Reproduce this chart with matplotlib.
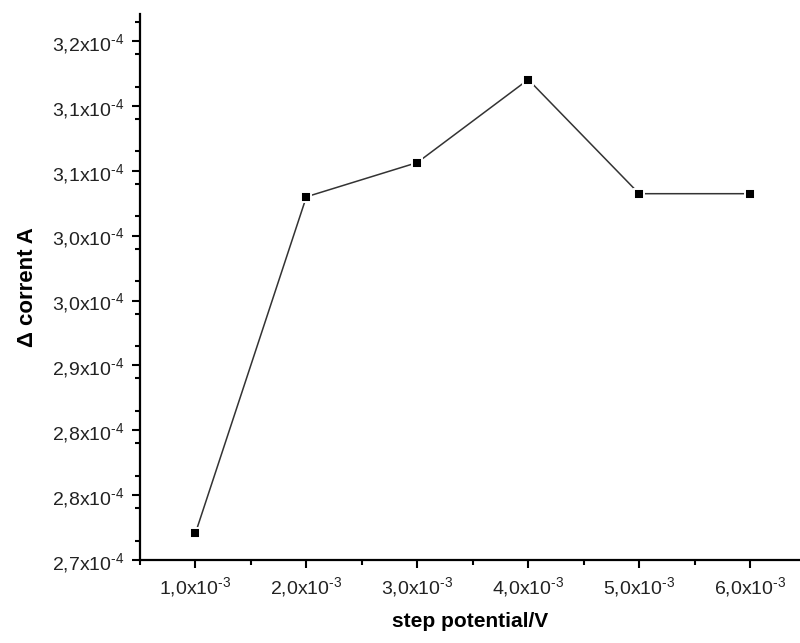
import matplotlib
matplotlib.use('Agg')
import matplotlib.pyplot as plt
from matplotlib.ticker import FixedLocator, MultipleLocator

plt.rcParams['font.family'] = ['Liberation Sans', 'DejaVu Sans']
plt.rcParams['mathtext.fontset'] = 'custom'
plt.rcParams['mathtext.rm'] = 'Liberation Sans'
plt.rcParams['mathtext.it'] = 'Liberation Sans'

# data
step_potential = [1.0e-3, 2.0e-3, 3.0e-3, 4.0e-3, 5.0e-3, 6.0e-3]
delta_current = [2.726e-4, 3.050e-4, 3.083e-4, 3.163e-4, 3.053e-4, 3.053e-4]

x_ticks = [1.0e-3, 2.0e-3, 3.0e-3, 4.0e-3, 5.0e-3, 6.0e-3]
x_labels = ['1,0x10$^{\u20103}$', '2,0x10$^{\u20103}$', '3,0x10$^{\u20103}$',
            '4,0x10$^{\u20103}$', '5,0x10$^{\u20103}$', '6,0x10$^{\u20103}$']
y_ticks = [2.7e-4, 2.7625e-4, 2.825e-4, 2.8875e-4, 2.95e-4, 3.0125e-4,
           3.075e-4, 3.1375e-4, 3.2e-4]
y_labels = ['2,7x10$^{\u20104}$', '2,8x10$^{\u20104}$', '2,8x10$^{\u20104}$',
            '2,9x10$^{\u20104}$', '3,0x10$^{\u20104}$', '3,0x10$^{\u20104}$',
            '3,1x10$^{\u20104}$', '3,1x10$^{\u20104}$', '3,2x10$^{\u20104}$']

fig = plt.figure(figsize=(8, 6.43), dpi=100)
ax = fig.add_axes([0.175, 0.129, 0.825, 0.849])

ax.plot(step_potential, delta_current, color='#333333', linewidth=1.1, zorder=2)
ax.plot(step_potential, delta_current, linestyle='none', marker='s', markersize=7.8,
        markerfacecolor='black', markeredgecolor='white', markeredgewidth=1.4, zorder=3)

ax.set_xlim(0.5e-3, 6.45e-3)
ax.set_ylim(2.7e-4, 3.226e-4)

ax.xaxis.set_major_locator(FixedLocator(x_ticks))
ax.set_xticklabels(x_labels)
ax.xaxis.set_minor_locator(MultipleLocator(0.5e-3))
ax.yaxis.set_major_locator(FixedLocator(y_ticks))
ax.set_yticklabels(y_labels)
ax.yaxis.set_minor_locator(MultipleLocator(0.03125e-4))

for s in ['top', 'right']:
    ax.spines[s].set_visible(False)
for s in ['left', 'bottom']:
    ax.spines[s].set_linewidth(1.6)

ax.tick_params(which='major', direction='out', length=6, width=1.5, labelsize=14, pad=5,
               labelcolor='#222222')
ax.tick_params(which='minor', direction='out', length=3.5, width=1.5)

ax.set_xlabel('step potential/V', fontsize=15, fontweight='bold', labelpad=9)
ax.set_ylabel('Δ corrent A', fontsize=16, fontweight='bold', labelpad=10)

fig.savefig('out.png', dpi=100)
